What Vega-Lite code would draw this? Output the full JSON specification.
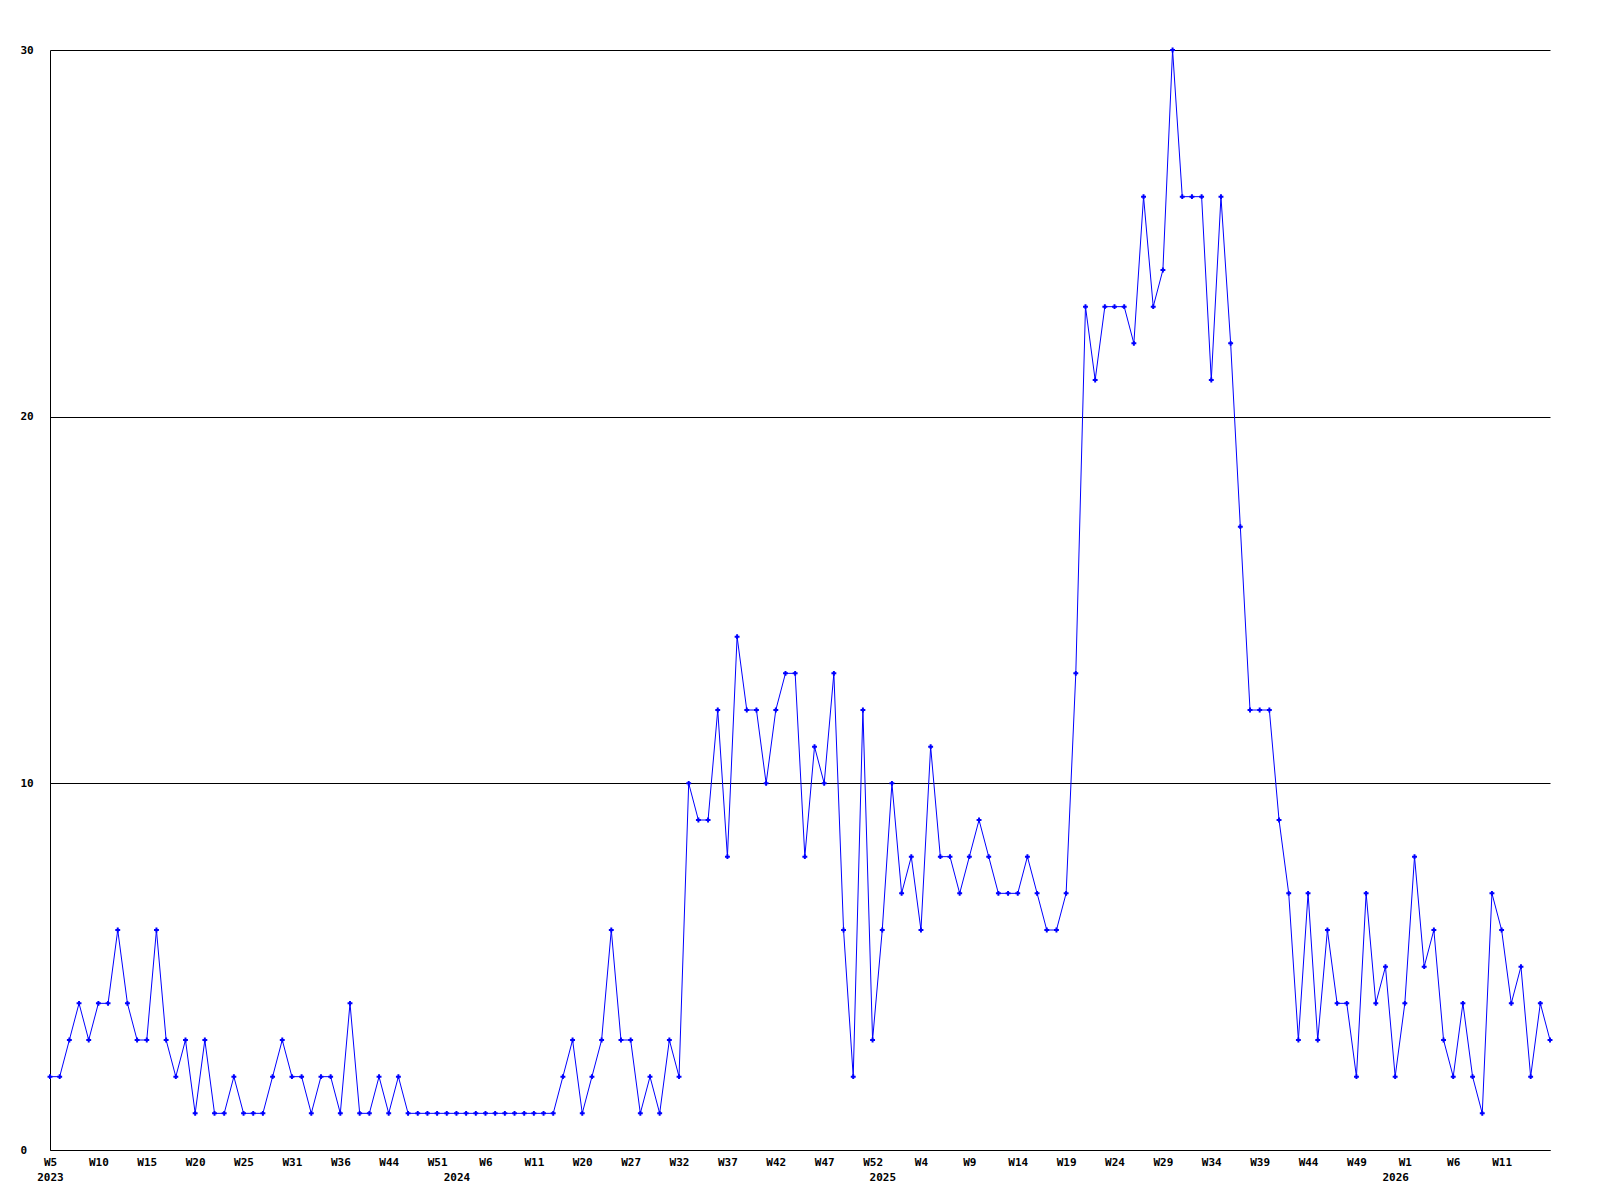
{
  "$schema": "https://vega.github.io/schema/vega-lite/v6.json",
  "width": 1500,
  "height": 1100,
  "autosize": "none",
  "padding": {"left": 50, "top": 50, "right": 50, "bottom": 50},
  "background": "white",
  "config": {"view": {"stroke": null}, "font": "DejaVu Sans Mono"},
  "data": {"values": [
    {"week":"2023-W05","n":2},{"week":"2023-W06","n":2},{"week":"2023-W07","n":3},{"week":"2023-W08","n":4},{"week":"2023-W09","n":3},
    {"week":"2023-W10","n":4},{"week":"2023-W11","n":4},{"week":"2023-W12","n":6},{"week":"2023-W13","n":4},{"week":"2023-W14","n":3},
    {"week":"2023-W15","n":3},{"week":"2023-W16","n":6},{"week":"2023-W17","n":3},{"week":"2023-W18","n":2},{"week":"2023-W19","n":3},
    {"week":"2023-W20","n":1},{"week":"2023-W21","n":3},{"week":"2023-W22","n":1},{"week":"2023-W23","n":1},{"week":"2023-W24","n":2},
    {"week":"2023-W25","n":1},{"week":"2023-W26","n":1},{"week":"2023-W27","n":1},{"week":"2023-W28","n":2},{"week":"2023-W29","n":3},
    {"week":"2023-W31","n":2},{"week":"2023-W32","n":2},{"week":"2023-W33","n":1},{"week":"2023-W34","n":2},{"week":"2023-W35","n":2},
    {"week":"2023-W36","n":1},{"week":"2023-W37","n":4},{"week":"2023-W38","n":1},{"week":"2023-W40","n":1},{"week":"2023-W41","n":2},
    {"week":"2023-W44","n":1},{"week":"2023-W45","n":2},{"week":"2023-W46","n":1},{"week":"2023-W48","n":1},{"week":"2023-W49","n":1},
    {"week":"2023-W51","n":1},{"week":"2023-W52","n":1},
    {"week":"2024-W00","n":1},{"week":"2024-W02","n":1},{"week":"2024-W04","n":1},{"week":"2024-W06","n":1},{"week":"2024-W07","n":1},
    {"week":"2024-W08","n":1},{"week":"2024-W09","n":1},{"week":"2024-W10","n":1},{"week":"2024-W11","n":1},{"week":"2024-W12","n":1},
    {"week":"2024-W14","n":1},{"week":"2024-W16","n":2},{"week":"2024-W18","n":3},{"week":"2024-W20","n":1},{"week":"2024-W21","n":2},
    {"week":"2024-W23","n":3},{"week":"2024-W24","n":6},{"week":"2024-W26","n":3},{"week":"2024-W27","n":3},{"week":"2024-W28","n":1},
    {"week":"2024-W29","n":2},{"week":"2024-W30","n":1},{"week":"2024-W31","n":3},{"week":"2024-W32","n":2},{"week":"2024-W33","n":10},
    {"week":"2024-W34","n":9},{"week":"2024-W35","n":9},{"week":"2024-W36","n":12},{"week":"2024-W37","n":8},{"week":"2024-W38","n":14},
    {"week":"2024-W39","n":12},{"week":"2024-W40","n":12},{"week":"2024-W41","n":10},{"week":"2024-W42","n":12},{"week":"2024-W43","n":13},
    {"week":"2024-W44","n":13},{"week":"2024-W45","n":8},{"week":"2024-W46","n":11},{"week":"2024-W47","n":10},{"week":"2024-W48","n":13},
    {"week":"2024-W49","n":6},{"week":"2024-W50","n":2},{"week":"2024-W51","n":12},{"week":"2024-W52","n":3},
    {"week":"2025-W00","n":6},{"week":"2025-W01","n":10},{"week":"2025-W02","n":7},{"week":"2025-W03","n":8},{"week":"2025-W04","n":6},
    {"week":"2025-W05","n":11},{"week":"2025-W06","n":8},{"week":"2025-W07","n":8},{"week":"2025-W08","n":7},{"week":"2025-W09","n":8},
    {"week":"2025-W10","n":9},{"week":"2025-W11","n":8},{"week":"2025-W12","n":7},{"week":"2025-W13","n":7},{"week":"2025-W14","n":7},
    {"week":"2025-W15","n":8},{"week":"2025-W16","n":7},{"week":"2025-W17","n":6},{"week":"2025-W18","n":6},{"week":"2025-W19","n":7},
    {"week":"2025-W20","n":13},{"week":"2025-W21","n":23},{"week":"2025-W22","n":21},{"week":"2025-W23","n":23},{"week":"2025-W24","n":23},
    {"week":"2025-W25","n":23},{"week":"2025-W26","n":22},{"week":"2025-W27","n":26},{"week":"2025-W28","n":23},{"week":"2025-W29","n":24},
    {"week":"2025-W30","n":30},{"week":"2025-W31","n":26},{"week":"2025-W32","n":26},{"week":"2025-W33","n":26},{"week":"2025-W34","n":21},
    {"week":"2025-W35","n":26},{"week":"2025-W36","n":22},{"week":"2025-W37","n":17},{"week":"2025-W38","n":12},{"week":"2025-W39","n":12},
    {"week":"2025-W40","n":12},{"week":"2025-W41","n":9},{"week":"2025-W42","n":7},{"week":"2025-W43","n":3},{"week":"2025-W44","n":7},
    {"week":"2025-W45","n":3},{"week":"2025-W46","n":6},{"week":"2025-W47","n":4},{"week":"2025-W48","n":4},{"week":"2025-W49","n":2},
    {"week":"2025-W50","n":7},{"week":"2025-W51","n":4},{"week":"2025-W52","n":5},
    {"week":"2026-W00","n":2},{"week":"2026-W01","n":4},{"week":"2026-W02","n":8},{"week":"2026-W03","n":5},{"week":"2026-W04","n":6},
    {"week":"2026-W05","n":3},{"week":"2026-W06","n":2},{"week":"2026-W07","n":4},{"week":"2026-W08","n":2},{"week":"2026-W09","n":1},
    {"week":"2026-W10","n":7},{"week":"2026-W11","n":6},{"week":"2026-W12","n":4},{"week":"2026-W13","n":5},{"week":"2026-W14","n":2},
    {"week":"2026-W15","n":4},{"week":"2026-W16","n":3}
  ]},
  "encoding": {
    "x": {
      "field": "week", "type": "ordinal", "sort": null,
      "scale": {"type": "point", "padding": 0},
      "axis": {
        "title": null,
        "values": ["2023-W05","2023-W10","2023-W15","2023-W20","2023-W25","2023-W31","2023-W36","2023-W44","2023-W51","2024-W00","2024-W06","2024-W11","2024-W20","2024-W27","2024-W32","2024-W37","2024-W42","2024-W47","2024-W52","2025-W00","2025-W04","2025-W09","2025-W14","2025-W19","2025-W24","2025-W29","2025-W34","2025-W39","2025-W44","2025-W49","2026-W00","2026-W01","2026-W06","2026-W11"],
        "labelExpr": "datum.value == '2023-W05' ? ['W5', '2023'] : (substring(datum.value, 6) == '00' ? ['', substring(datum.value, 0, 4)] : 'W' + parseInt(substring(datum.value, 6)))",
        "labelAngle": 0,
        "ticks": false,
        "grid": false,
        "domainColor": "#000000",
        "domainWidth": 1,
        "labelColor": "#000000",
        "labelFont": "DejaVu Sans Mono",
        "labelFontWeight": "bold",
        "labelFontSize": 11,
        "labelPadding": 6,
        "labelLineHeight": 15,
        "labelBaseline": "top",
        "labelOverlap": false,
        "labelBound": false,
        "labelFlush": false
      }
    },
    "y": {
      "field": "n", "type": "quantitative",
      "scale": {"domain": [0, 30], "nice": false},
      "axis": {
        "title": null,
        "values": [0, 10, 20, 30],
        "ticks": false,
        "grid": true,
        "gridColor": "#000000",
        "gridOpacity": 1,
        "gridWidth": 1,
        "domainColor": "#000000",
        "domainWidth": 1,
        "labelAlign": "left",
        "labelPadding": 30,
        "labelColor": "#000000",
        "labelFont": "DejaVu Sans Mono",
        "labelFontWeight": "bold",
        "labelFontSize": 11
      }
    }
  },
  "layer": [
    {"mark": {"type": "line", "color": "#0000ff", "strokeWidth": 1}},
    {"mark": {"type": "point", "shape": "cross", "filled": true, "size": 24, "color": "#0000ff", "opacity": 1}}
  ]
}
